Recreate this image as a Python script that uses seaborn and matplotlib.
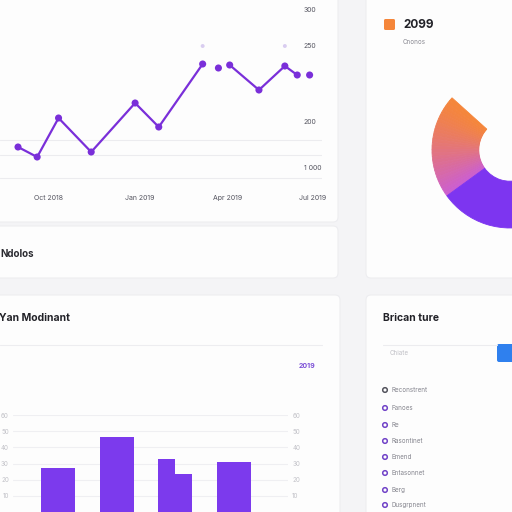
import numpy as np
import pandas as pd
import seaborn as sns
import matplotlib.pyplot as plt
from matplotlib.patches import FancyBboxPatch, Circle
from matplotlib.colors import to_rgb

# values

# line card
line_x = [1.6, 3.3, 5.2, 8.1, 12.0, 14.1, 18.0, 19.4, 20.4, 23.0, 25.3, 26.4, 27.5]
line_y = [33, 23, 62, 28, 77, 53, 116, 112, 115, 90, 114, 105, 105]
line_seg = [0, 0, 0, 0, 0, 0, 0, 1, 2, 2, 2, 2, 3]
ghost_x = [18.0, 25.3]
ghost_y = [134, 134]
line_xticks = [4.3, 12.4, 20.2, 27.8]
line_xlabels = ["Oct 2018", "Jan 2019", "Apr 2019", "Jul 2019"]
line_yticks = [12, 59, 134, 170]
line_ylabels = ["1 000", "200", "250", "300"]

# donut card
donut_labels = ["2099", "Cnonos", "other"]
donut_values = [78, 145, 137]

# bar card
bar_cats = ["A", "B", "C", "D"]
bar_left = [27, 46.5, 32.5, 31]
bar_right = [27, 46.5, 23.3, 31]
bar_yticks = [10, 20, 30, 40, 50, 60]

# list card
list_items = ["Reconstrent", "Fanoes", "Re", "Rasontinet", "Emend",
              "Entasonnet", "Berg", "Dusgrpnent"]

sns.set_theme(style="white")
plt.rcParams['font.family'] = ['Inter', 'DejaVu Sans']

W = H = 512
fig = plt.figure(figsize=(5.12, 5.12), dpi=100)
fig.patch.set_facecolor("#f4f4f6")


def rect(x0, y0, x1, y1):
    # pixel box (top-left origin) to figure fraction
    return [x0 / W, 1 - y1 / H, (x1 - x0) / W, (y1 - y0) / H]


bg = fig.add_axes([0, 0, 1, 1])
bg.set_xlim(0, W)
bg.set_ylim(H, 0)
bg.axis("off")

for (x0, y0, x1, y1) in [(-10, -10, 338, 222), (-10, 226, 338, 278),
                         (366, -10, 525, 278), (-10, 295, 340, 525),
                         (366, 295, 525, 525)]:
    bg.add_patch(FancyBboxPatch((x0, y0), x1 - x0, y1 - y0,
                                boxstyle="round,pad=0,rounding_size=5",
                                fc="#fdfdfd", ec="#ededf0", lw=0.8))

purple = "#7a2fd9"

# ---- line chart
ax1 = fig.add_axes(rect(0, 0, 322, 180))
ax1.set_facecolor("none")
ldf = pd.DataFrame({"x": line_x, "y": line_y, "seg": line_seg})
for v in [2, 25, 40]:
    ax1.axhline(v, color="#ececef", lw=0.8, zorder=0)
sns.lineplot(data=ldf, x="x", y="y", units="seg", estimator=None,
             color=purple, lw=1.6, ax=ax1)
sns.scatterplot(data=ldf, x="x", y="y", color=purple, s=26, edgecolor="none",
                ax=ax1, zorder=3, clip_on=False)
sns.scatterplot(x=ghost_x, y=ghost_y, color="#d9cdf0", s=8, edgecolor="none",
                ax=ax1)
ax1.set_xlim(0, 28.6)
ax1.set_ylim(0, 180)
ax1.set_xticks(line_xticks)
ax1.set_xticklabels(line_xlabels)
ax1.set_yticks(line_yticks)
ax1.set_yticklabels(line_ylabels)
ax1.yaxis.tick_right()
ax1.tick_params(axis="x", length=0, pad=11, labelsize=5, colors="#555560")
ax1.tick_params(axis="y", length=0, pad=-13, labelsize=5, colors="#555560")
ax1.set_xlabel("")
ax1.set_ylabel("")
sns.despine(ax=ax1, left=True, bottom=True)

bg.text(0, 254, "Ndolos", fontsize=7, fontweight="bold", color="#2a2a30",
        va="center")

# ---- donut
ax2 = fig.add_axes(rect(431, 72, 589, 228))
ax2.set_facecolor("none")
orange = np.array(to_rgb("#f5863a"))
pink = np.array(to_rgb("#cc5fcf"))
n = 30
vals = [donut_values[0] / n] * n + donut_values[1:]
cols = [tuple(orange + (pink - orange) * (i / (n - 1)) ** 1.3) for i in range(n)]
cols += ["#7d35f0", (1, 1, 1, 0)]
wedges, _ = ax2.pie(vals, colors=cols, startangle=138, counterclock=True,
                    radius=1, wedgeprops=dict(width=0.6))
for w, c in zip(wedges[:-1], cols[:-1]):
    w.set_edgecolor(c)
    w.set_linewidth(0.6)
wedges[-1].set_edgecolor("none")
ax2.set_xlim(-1, 1)
ax2.set_ylim(-1, 1)
ax2.set_aspect("equal")
ax2.axis("off")

bg.add_patch(FancyBboxPatch((384, 19), 11, 11, boxstyle="round,pad=0,rounding_size=1.5",
                            fc="#f5863a", ec="none"))
bg.text(403, 24.5, donut_labels[0], fontsize=8.5, fontweight="bold",
        color="#222228", va="center")
bg.text(403, 42, donut_labels[1], fontsize=4.5, color="#8a8a92", va="center")

# ---- bar chart
bg.text(-1, 318, "Yan Modinant", fontsize=7.5, fontweight="bold",
        color="#222228", va="center")
bg.plot([0, 322], [345, 345], color="#ededf0", lw=0.8)
bg.text(299, 366, "2019", fontsize=5, fontweight="bold", color="#7b4fd6",
        va="center")

ax3 = fig.add_axes(rect(13, 415, 288, 512))
ax3.set_facecolor("none")
bdf = pd.DataFrame({
    "cat": bar_cats * 2,
    "val": bar_left + bar_right,
    "half": ["l"] * 4 + ["r"] * 4,
})
sns.barplot(data=bdf, x="cat", y="val", hue="half",
            palette=["#7c3aed", "#7c3aed"], width=0.58, gap=0,
            dodge=True, legend=False, saturation=1, ax=ax3,
            edgecolor="none")
ax3.set_xlim(-0.77, 3.92)
ax3.set_ylim(0, 60)
ax3.set_yticks(bar_yticks)
ax3.set_yticklabels([str(v) for v in bar_yticks])
ax3.yaxis.grid(True, color="#efeff2", lw=0.8)
ax3.set_axisbelow(True)
ax3.tick_params(axis="y", length=0, labelsize=4.5, colors="#c2c2c8",
                labelright=True, pad=3)
ax3.set_xticks([])
ax3.set_xlabel("")
ax3.set_ylabel("")
sns.despine(ax=ax3, left=True, bottom=True)

# ---- list card
bg.text(383, 318, "Brican ture", fontsize=7.5, fontweight="bold",
        color="#222228", va="center")
bg.plot([383, 497], [345, 345], color="#ececef", lw=0.8)
bg.text(390, 353, "Chiate", fontsize=4.5, color="#c0c0c6", va="center")
bg.add_patch(FancyBboxPatch((497, 344), 20, 18, boxstyle="round,pad=0,rounding_size=2",
                            fc="#2f80ee", ec="none"))
item_y = [390, 408, 425, 441, 457, 473, 490, 505]
for i, (yy, lab) in enumerate(zip(item_y, list_items)):
    ec = "#55555e" if i == 0 else "#7244c8"
    bg.add_patch(Circle((385, yy), 2.3, fc="none", ec=ec, lw=1.1))
    bg.text(392, yy, lab, fontsize=4.5, color="#85858e", va="center")

fig.savefig("out.png", dpi=100, facecolor=fig.get_facecolor())
